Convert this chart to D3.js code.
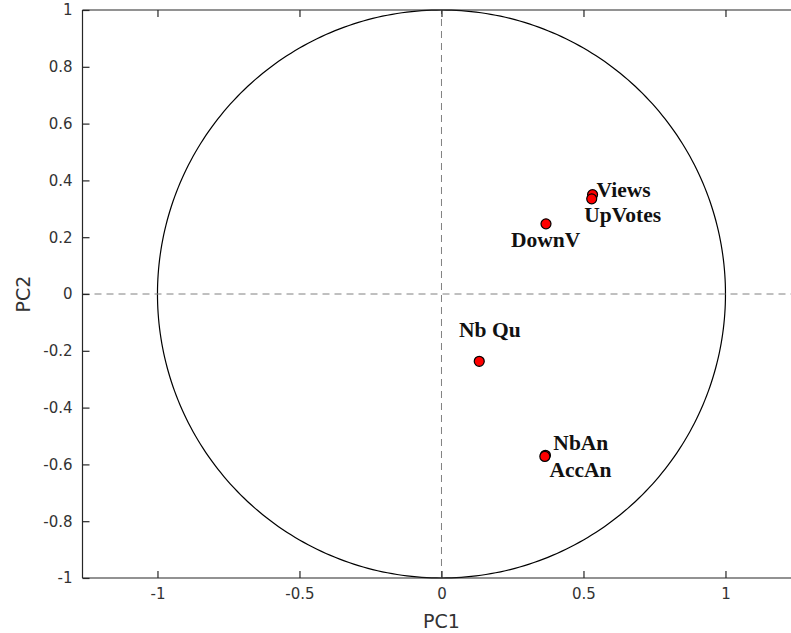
<!DOCTYPE html>
<html>
<head>
<meta charset="utf-8">
<script src="https://cdn.jsdelivr.net/npm/d3@7"></script>
<style>
  html, body { margin: 0; padding: 0; background: #fff; }
  svg { display: block; }
</style>
</head>
<body>
<svg id="chart" width="791" height="633"></svg>
<script>
// ---- data ----
const variables = ["Views", "UpVotes", "DownV", "Nb Qu", "NbAn", "AccAn"];
const pc1 = [0.532, 0.529, 0.368, 0.133, 0.366, 0.364];
const pc2 = [0.350, 0.335, 0.247, -0.237, -0.568, -0.572];
// label anchor positions in data units (text(x,y,...) style)
const labelPc1 = [0.546, 0.503, 0.245, 0.062, 0.394, 0.380];
const labelPc2 = [0.343, 0.253, 0.165, -0.152, -0.551, -0.645];
const xTicks = [-1, -0.5, 0, 0.5, 1];
const yTicks = [-1, -0.8, -0.6, -0.4, -0.2, 0, 0.2, 0.4, 0.6, 0.8, 1];
const xDomain = [-1.264, 1.264];
const yDomain = [-1, 1];

(function () {
// ---- layout ----
const svg = d3.select("#chart");
const mLeft = 82.5, mTop = 10, mBottom = 578;
const unit = (mBottom - mTop) / (yDomain[1] - yDomain[0]);
const mRight = mLeft + unit * (xDomain[1] - xDomain[0]);
const x = d3.scaleLinear().domain(xDomain).range([mLeft, mRight]);
const y = d3.scaleLinear().domain(yDomain).range([mBottom, mTop]);
const axisColor = "#262626";
const fmt = d => String(+d.toFixed(2));

// unit circle
const circ = d3.range(0, 361).map(a => [Math.cos(a * Math.PI / 180), Math.sin(a * Math.PI / 180)]);
svg.append("path")
  .attr("d", d3.line().x(d => x(d[0])).y(d => y(d[1]))(circ))
  .attr("fill", "none").attr("stroke", "#000").attr("stroke-width", 1.2);

// dashed reference lines
svg.append("line")
  .attr("x1", x(xDomain[0])).attr("x2", x(xDomain[1]))
  .attr("y1", y(0)).attr("y2", y(0))
  .attr("stroke", "#808080").attr("stroke-width", 1).attr("stroke-dasharray", "7,5");
svg.append("line")
  .attr("x1", x(0)).attr("x2", x(0))
  .attr("y1", y(yDomain[0])).attr("y2", y(yDomain[1]))
  .attr("stroke", "#808080").attr("stroke-width", 1).attr("stroke-dasharray", "7,5");

// axes (ticks inward)
const tickFont = "'DejaVu Sans', sans-serif";
const gx = svg.append("g").attr("transform", `translate(0,${mBottom})`)
  .call(d3.axisBottom(x).tickValues(xTicks).tickSize(-7).tickPadding(10).tickFormat(fmt));
const gxTop = svg.append("g").attr("transform", `translate(0,${mTop})`)
  .call(d3.axisTop(x).tickValues(xTicks).tickSize(-7).tickFormat(""));
const gy = svg.append("g").attr("transform", `translate(${mLeft},0)`)
  .call(d3.axisLeft(y).tickValues(yTicks).tickSize(-7).tickPadding(10).tickFormat(fmt));
[gx, gxTop, gy].forEach(g => {
  g.select(".domain").attr("stroke", axisColor).attr("stroke-width", 1.2);
  g.selectAll(".tick line").attr("stroke", axisColor).attr("stroke-width", 1.2);
  g.selectAll(".tick text").attr("fill", "#333").attr("font-family", tickFont).attr("font-size", 15);
});
gx.select(".domain").attr("d", `M${mLeft},0H${mRight}`);
gxTop.select(".domain").attr("d", `M${mLeft},0H${mRight}`);
gy.select(".domain").attr("d", `M0,${mTop}V${mBottom}`);

// axis labels
svg.append("text").text("PC1")
  .attr("x", x(0)).attr("y", 628)
  .attr("text-anchor", "middle").attr("fill", "#333")
  .attr("font-family", tickFont).attr("font-size", 19);
svg.append("text").text("PC2")
  .attr("transform", `translate(30,${y(0)}) rotate(-90)`)
  .attr("text-anchor", "middle").attr("fill", "#333")
  .attr("font-family", tickFont).attr("font-size", 19);

// points
svg.append("g").selectAll("circle").data(variables).join("circle")
  .attr("cx", (d, i) => x(pc1[i])).attr("cy", (d, i) => y(pc2[i]))
  .attr("r", 5).attr("fill", "#ff0000").attr("stroke", "#000").attr("stroke-width", 1.2);

// labels
svg.append("g").selectAll("text").data(variables).join("text")
  .text(d => d)
  .attr("x", (d, i) => x(labelPc1[i])).attr("y", (d, i) => y(labelPc2[i]))
  .attr("font-family", "'Liberation Serif', 'Times New Roman', serif")
  .attr("font-weight", "bold").attr("font-size", 21.5).attr("fill", "#111");
})();
</script>
</body>
</html>
